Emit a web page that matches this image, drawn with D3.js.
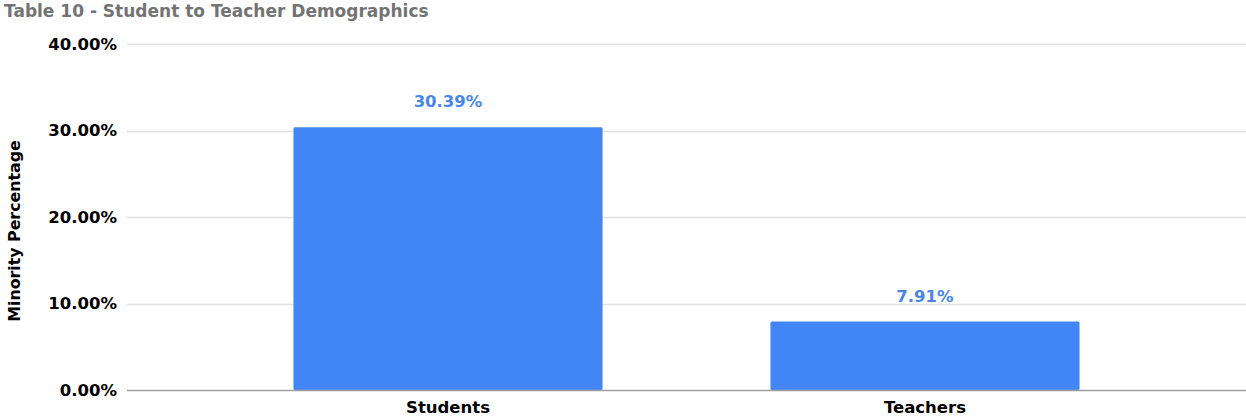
<!DOCTYPE html>
<html>
<head>
<meta charset="utf-8">
<script src="https://cdn.jsdelivr.net/npm/d3@7"></script>
<style>
  body { margin: 0; background: #fff; }
  svg { display: block; font-family: "DejaVu Sans", sans-serif; }
</style>
</head>
<body>
<div id="chart"></div>
<script>
// data
const categories = ["Students", "Teachers"];
const values = [30.39, 7.91];
const yTicks = [0, 10, 20, 30, 40];

const width = 1246;
const height = 417;
const margin = { top: 44, right: 0, bottom: 27, left: 127 };

const svg = d3.select("#chart")
    .append("svg")
    .attr("width", width)
    .attr("height", height);

const x = d3.scaleBand()
    .domain(categories)
    .range([margin.left, width - margin.right])
    .paddingInner(0.352)
    .paddingOuter(0.349);

const y = d3.scaleLinear()
    .domain([0, 40])
    .range([height - margin.bottom, margin.top]);

// title
svg.append("text")
    .attr("x", 4)
    .attr("y", 17)
    .attr("fill", "#737373")
    .attr("font-size", 17)
    .attr("font-weight", "bold")
    .text("Table 10 - Student to Teacher Demographics");

// gridlines
svg.append("g")
    .selectAll("line")
    .data(yTicks.filter(d => d > 0))
    .join("line")
    .attr("x1", margin.left)
    .attr("x2", width)
    .attr("y1", d => Math.round(y(d)) + 0.5)
    .attr("y2", d => Math.round(y(d)) + 0.5)
    .attr("stroke", "#e0e0e0")
    .attr("stroke-width", 1.5);

// y tick labels
svg.append("g")
    .selectAll("text")
    .data(yTicks)
    .join("text")
    .attr("x", 117)
    .attr("y", d => y(d))
    .attr("dy", "0.36em")
    .attr("text-anchor", "end")
    .attr("font-size", 16.5)
    .attr("font-weight", "bold")
    .attr("fill", "#000")
    .text(d => d.toFixed(2) + "%");

// y axis title
svg.append("text")
    .attr("transform", `translate(20, ${(margin.top + height - margin.bottom) / 2 + 14}) rotate(-90)`)
    .attr("text-anchor", "middle")
    .attr("font-size", 15.8)
    .attr("font-weight", "bold")
    .attr("fill", "#000")
    .text("Minority Percentage");

// bars
svg.append("g")
    .selectAll("rect")
    .data(values)
    .join("rect")
    .attr("x", (d, i) => x(categories[i]))
    .attr("y", d => y(d))
    .attr("width", x.bandwidth())
    .attr("height", d => y(0) - y(d))
    .attr("rx", 1.5)
    .attr("fill", "#4285f4");

// value labels
svg.append("g")
    .selectAll("text")
    .data(values)
    .join("text")
    .attr("x", (d, i) => x(categories[i]) + x.bandwidth() / 2)
    .attr("y", d => y(d) - 20)
    .attr("text-anchor", "middle")
    .attr("font-size", 16.5)
    .attr("font-weight", "bold")
    .attr("fill", "#4a86e8")
    .text(d => d.toFixed(2) + "%");

// baseline
svg.append("line")
    .attr("x1", margin.left)
    .attr("x2", width)
    .attr("y1", y(0) + 0.5)
    .attr("y2", y(0) + 0.5)
    .attr("stroke", "#9e9e9e")
    .attr("stroke-width", 1.5);

// x labels
svg.append("g")
    .selectAll("text")
    .data(categories)
    .join("text")
    .attr("x", d => x(d) + x.bandwidth() / 2)
    .attr("y", height - 4)
    .attr("text-anchor", "middle")
    .attr("font-size", 16.5)
    .attr("font-weight", "bold")
    .attr("fill", "#000")
    .text(d => d);
</script>
</body>
</html>
